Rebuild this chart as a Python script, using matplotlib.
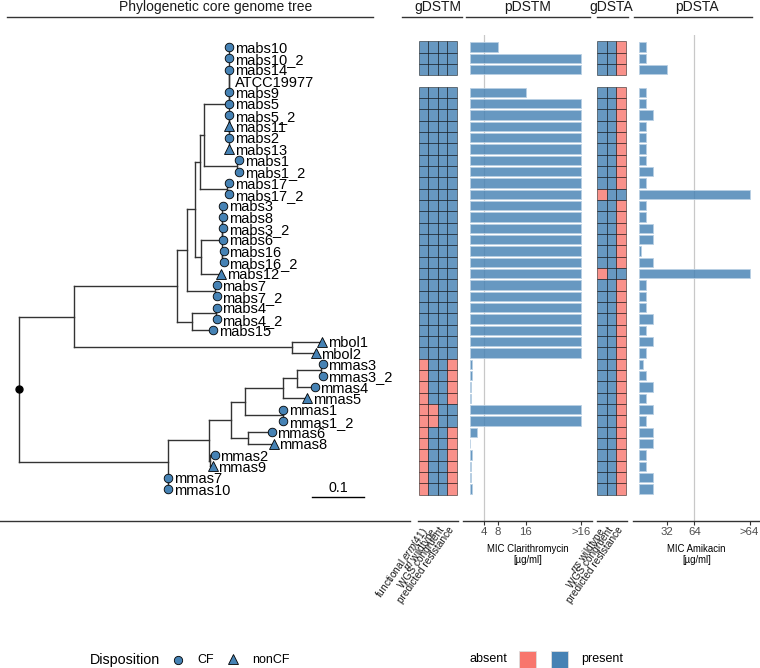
import matplotlib
matplotlib.use("Agg")
import matplotlib.pyplot as plt
import matplotlib.transforms as mtransforms
from matplotlib.patches import Rectangle
from matplotlib.collections import LineCollection
import numpy as np

plt.rcParams['font.family'] = ['Liberation Sans', 'DejaVu Sans']
plt.rcParams['mathtext.fontset'] = 'custom'
plt.rcParams['mathtext.rm'] = 'Liberation Sans'
plt.rcParams['mathtext.it'] = 'Liberation Sans:italic'

# ---------------- data ----------------
NEWICK = """
(((((((((mabs10:0.0006,mabs10_2:0.0006,mabs14:0.0006,ATCC19977:0.0006,mabs9:0.0006,mabs5:0.0006):0.0,
(mabs5_2:0.0006,mabs11:0.0006,mabs2:0.0006,mabs13:0.0006):0.0):0.0484,
(mabs1:0.0035,mabs1_2:0.0035):0.0648):0.0077,
(mabs17:0.0045,mabs17_2:0.0045):0.0522):0.0091,
(((mabs3:0.0015,mabs8:0.0015,mabs3_2:0.0015,mabs6:0.0015):0.0,(mabs16:0.003,mabs16_2:0.003):0.0):0.0416,
mabs12:0.0393):0.011):0.0155,
(mabs7:0.0023,mabs7_2:0.0023):0.0545):0.0193,
((mabs4:0.0014,mabs4_2:0.0014):0.0464,mabs15:0.0412):0.0284):0.1998,
(mbol1:0.0592,mbol2:0.047):0.4211):0.1064,
(((((((mmas3:0.0033,mmas3_2:0.0033):0.047,mmas4:0.0354):0.0259,mmas5:0.0464):0.0741,
(mmas1:0.0015,mmas1_2:0.0015):0.0725):0.0271,
(mmas6:0.0453,mmas8:0.0497):0.0335):0.042,
(mmas2:0.0087,mmas9:0.0043):0.0023):0.0805,
(mmas7:0.001,mmas10:0.001):0.0001):0.2876);
"""

nonCF = ['mabs11', 'mabs13', 'mabs12', 'mbol1', 'mbol2', 'mmas5', 'mmas8', 'mmas9']
no_disposition = ['ATCC19977']

taxa = ['mabs10', 'mabs10_2', 'mabs14', 'ATCC19977', 'mabs9', 'mabs5', 'mabs5_2',
        'mabs11', 'mabs2', 'mabs13', 'mabs1', 'mabs1_2', 'mabs17', 'mabs17_2',
        'mabs3', 'mabs8', 'mabs3_2', 'mabs6', 'mabs16', 'mabs16_2', 'mabs12',
        'mabs7', 'mabs7_2', 'mabs4', 'mabs4_2', 'mabs15', 'mbol1', 'mbol2',
        'mmas3', 'mmas3_2', 'mmas4', 'mmas5', 'mmas1', 'mmas1_2', 'mmas6', 'mmas8',
        'mmas2', 'mmas9', 'mmas7', 'mmas10']

# gDSTM (1 = present, 0 = absent, None = no data)
gdstm_labels = [r'functional $\mathit{erm}$(41)', r'$\mathit{rrl}$ wildtype',
                'WGS congruent', 'predicted resistance']
erm41 =      [1, 1, 1, None] + [1] * 24 + [0] * 12
rrl_wt =     [1, 1, 1, None] + [1] * 24 + [1, 1, 1, 1, 0, 0, 1, 1, 1, 1, 1, 1]
wgs_cong_m = [1, 1, 1, None] + [1] * 24 + [1] * 12
pred_res_m = [1, 1, 1, None] + [1] * 24 + [0, 0, 0, 0, 1, 1, 0, 0, 0, 0, 0, 0]

# gDSTA
gdsta_labels = [r'$\mathit{rrs}$ wildtype', 'WGS congruent', 'predicted resistance']
rrs_wt =     [1, 1, 1, None] + [1] * 9 + [0] + [1] * 6 + [0] + [1] * 19
wgs_cong_a = [1, 1, 1, None] + [1] * 36
pred_res_a = [0, 0, 0, None] + [0] * 9 + [1] + [0] * 6 + [1] + [0] * 19

# pDSTM: MIC clarithromycin (32 stands for ">16")
mic_clari = [8, 32, 32, None, 16] + [32] * 23 + \
            [0.5, 0.5, 0.25, 0.25, 32, 32, 2, 0.06, 0.5, 0.25, 0.25, 0.5]
clari_ticks = [4, 8, 16, 32]
clari_ticklabels = ['4', '8', '16', '>16']

# pDSTA: MIC amikacin (128 stands for ">64")
mic_amika = [8, 8, 32, None, 8, 8, 16, 8, 8, 8, 8, 16, 8, 128, 8, 8, 16, 16, 2, 16,
             128, 8, 8, 8, 16, 8, 16, 8, 4, 8, 16, 8, 16, 8, 16, 16, 8, 8, 16, 16]
amika_ticks = [32, 64, 128]
amika_ticklabels = ['32', '64', '>64']

# ---------------- colours ----------------
BLUE = '#4682B4'
PINK = '#F8766D'
BLUE_A = (70 / 255, 130 / 255, 180 / 255, 0.82)
PINK_A = (248 / 255, 118 / 255, 109 / 255, 0.8)
BAR_EDGE = '#B8CFE3'
LINE = '#333333'

# ---------------- tree parsing ----------------
def parse_newick(s):
    s = ''.join(s.split()).rstrip(';')
    pos = 0

    def node():
        nonlocal pos
        nd = {'children': [], 'name': '', 'bl': 0.0}
        if s[pos] == '(':
            pos += 1
            while True:
                nd['children'].append(node())
                if s[pos] == ',':
                    pos += 1
                    continue
                pos += 1
                break
        st = pos
        while pos < len(s) and s[pos] not in ':,)':
            pos += 1
        nd['name'] = s[st:pos]
        if pos < len(s) and s[pos] == ':':
            pos += 1
            st = pos
            while pos < len(s) and s[pos] not in ',)':
                pos += 1
            nd['bl'] = float(s[st:pos])
        return nd
    return node()


root = parse_newick(NEWICK)
tips = []


def layout(nd, x0):
    nd['x'] = x0 + nd['bl']
    if nd['children']:
        for c in nd['children']:
            layout(c, nd['x'])
        nd['y'] = float(np.mean([c['y'] for c in nd['children']]))
    else:
        nd['y'] = float(len(tips))
        tips.append(nd)


layout(root, 0.0)
segs = []


def collect(nd):
    if nd['children']:
        ys = [c['y'] for c in nd['children']]
        segs.append([(nd['x'], min(ys)), (nd['x'], max(ys))])
        for c in nd['children']:
            segs.append([(nd['x'], c['y']), (c['x'], c['y'])])
            collect(c)


collect(root)

# ---------------- figure ----------------
W, H = 760, 668
fig = plt.figure(figsize=(W / 100, H / 100), dpi=100)

PANEL_TOP, PANEL_BOT = 35, 520.7
ROW0, ROWSTEP = 47.0, 11.33
ylim = ((PANEL_BOT - ROW0) / ROWSTEP, (PANEL_TOP - ROW0) / ROWSTEP)


def add_px_axes(x0, x1, y0=PANEL_TOP, y1=PANEL_BOT):
    return fig.add_axes([x0 / W, 1 - y1 / H, (x1 - x0) / W, (y1 - y0) / H])


def style_bottom(ax):
    for sp in ['top', 'left', 'right']:
        ax.spines[sp].set_visible(False)
    ax.spines['bottom'].set_color(LINE)
    ax.spines['bottom'].set_linewidth(1.0)
    ax.set_yticks([])
    ax.set_ylim(*ylim)
    ax.patch.set_alpha(0)


# overlay for titles / legends
ov = fig.add_axes([0, 0, 1, 1])
ov.set_xlim(0, W)
ov.set_ylim(H, 0)
ov.axis('off')

# ---- tree panel ----
TREE_X0, TREE_X1 = 0, 410
ROOT_PX, PX_PER_UNIT = 19.0, 517.0
axT = add_px_axes(TREE_X0, TREE_X1)
style_bottom(axT)
axT.set_xlim((TREE_X0 - ROOT_PX) / PX_PER_UNIT, (TREE_X1 - ROOT_PX) / PX_PER_UNIT)
axT.set_xticks([])
axT.add_collection(LineCollection(segs, colors=LINE, linewidths=1.0, capstyle='projecting'))
axT.plot([root['x']], [root['y']], 'o', color='black', ms=5, zorder=5)

lab_tr = mtransforms.offset_copy(axT.transData, fig=fig, x=5.5, y=-5.8, units='dots')
for t in tips:
    name = t['name']
    if name not in no_disposition:
        mk = '^' if name in nonCF else 'o'
        axT.plot([t['x']], [t['y']], marker=mk, ms=6.2 if mk == 'o' else 7.0,
                 mfc=BLUE, mec='black', mew=0.6, ls='none', zorder=6)
    axT.text(t['x'], t['y'], name, transform=lab_tr, ha='left', va='baseline',
             fontsize=10.5, color='black', zorder=7)

# scale bar (0.1 substitutions/site)
sb_x0 = (312.3 - ROOT_PX) / PX_PER_UNIT
axT.plot([sb_x0, sb_x0 + 0.1], [39.74, 39.74], color='black', lw=1.0)
axT.text(sb_x0 + 0.05, 38.95, '0.1', ha='center', va='center', fontsize=10.3)

# ---- gDSTM heatmap ----
def heatmap(ax, cols):
    for j, col in enumerate(cols):
        for i, v in enumerate(col):
            if v is None:
                continue
            ax.add_patch(Rectangle((j - 0.5, i - 0.5), 1, 1,
                                   facecolor=BLUE_A if v == 1 else PINK_A,
                                   edgecolor=(0, 0, 0, 0.55), lw=0.6))


def rot_labels(ax, labels, dx=-4, dy=-4):
    tr = mtransforms.blended_transform_factory(ax.transData, ax.transAxes)
    tr = tr + mtransforms.ScaledTranslation(dx / 100, dy / 100, fig.dpi_scale_trans)
    for j, lab in enumerate(labels):
        ax.text(j, 0, lab, transform=tr, rotation=55, rotation_mode='anchor',
                ha='right', va='top', fontsize=7.3, color='#1a1a1a')


GM_X0, GM_X1, GM_CELL0, GM_CW = 417.7, 457.7, 419.0, 9.42
axM = add_px_axes(GM_X0, GM_X1)
style_bottom(axM)
axM.set_xlim(-0.5 + (GM_X0 - GM_CELL0) / GM_CW, -0.5 + (GM_X1 - GM_CELL0) / GM_CW)
axM.set_xticks([])
heatmap(axM, [erm41, rrl_wt, wgs_cong_m, pred_res_m])
rot_labels(axM, gdstm_labels)

# ---- pDSTM bars ----
PM_X0, PM_X1, PM_ZERO, PM_SCALE = 463.0, 592.0, 470.1, 3.475
axPM = add_px_axes(PM_X0, PM_X1)
style_bottom(axPM)
axPM.set_xlim((PM_X0 - PM_ZERO) / PM_SCALE, (PM_X1 - PM_ZERO) / PM_SCALE)
axPM.axvline(4, color='#C8C8C8', lw=0.9, zorder=0)
rows = [i for i, v in enumerate(mic_clari) if v is not None]
axPM.barh(rows, [mic_clari[i] for i in rows], height=0.82, color=BLUE_A,
          edgecolor=BAR_EDGE, lw=0.6)
axPM.set_xticks(clari_ticks)
axPM.set_xticklabels(clari_ticklabels, fontsize=8.2, color='#4D4D4D')
axPM.tick_params(axis='x', length=3, width=0.8, color=LINE, pad=1.5)
axPM.set_xlabel('MIC Clarithromycin\n[µg/ml]', fontsize=6.9, labelpad=5, linespacing=1.15)

# ---- gDSTA heatmap ----
GA_X0, GA_X1, GA_CELL0, GA_CW = 596.7, 626.7, 597.3, 9.47
axA = add_px_axes(GA_X0, GA_X1)
style_bottom(axA)
axA.set_xlim(-0.5 + (GA_X0 - GA_CELL0) / GA_CW, -0.5 + (GA_X1 - GA_CELL0) / GA_CW)
axA.set_xticks([])
heatmap(axA, [rrs_wt, wgs_cong_a, pred_res_a])
rot_labels(axA, gdsta_labels)

# ---- pDSTA bars ----
PA_X0, PA_X1, PA_ZERO, PA_SCALE = 632.7, 760.0, 639.1, 0.8625
axPA = add_px_axes(PA_X0, PA_X1)
style_bottom(axPA)
axPA.set_xlim((PA_X0 - PA_ZERO) / PA_SCALE, (PA_X1 - PA_ZERO) / PA_SCALE)
axPA.axvline(64, color='#C8C8C8', lw=0.9, zorder=0)
rows = [i for i, v in enumerate(mic_amika) if v is not None]
axPA.barh(rows, [mic_amika[i] for i in rows], height=0.82, color=BLUE_A,
          edgecolor=BAR_EDGE, lw=0.6)
axPA.set_xticks(amika_ticks)
axPA.set_xticklabels(amika_ticklabels, fontsize=8.2, color='#4D4D4D')
axPA.tick_params(axis='x', length=3, width=0.8, color=LINE, pad=1.5)
axPA.set_xlabel('MIC Amikacin\n[µg/ml]', fontsize=6.9, labelpad=5, linespacing=1.15)

# ---- panel titles with rules ----
titles = [('Phylogenetic core genome tree', 216, 7, 373),
          ('gDSTM', 437.7, 402, 462),
          ('pDSTM', 527.5, 466, 590),
          ('gDSTA', 611.7, 597, 628),
          ('pDSTA', 696.5, 634, 752)]
for txt, cx, lx0, lx1 in titles:
    ov.text(cx, 11, txt, ha='center', va='baseline', fontsize=10, color='#1a1a1a')
    ov.plot([lx0, lx1], [17.3, 17.3], color=LINE, lw=1.0)

# ---- legends ----
ov.text(90, 660, 'Disposition', ha='left', va='center', fontsize=10.3)
ov.plot([178], [660], 'o', ms=6, mfc=BLUE, mec='black', mew=0.6)
ov.text(197.5, 660, 'CF', ha='left', va='center', fontsize=9)
ov.plot([232.7], [659], '^', ms=7, mfc=BLUE, mec='black', mew=0.6)
ov.text(252, 660, 'nonCF', ha='left', va='center', fontsize=9)

ov.text(469, 659, 'absent', ha='left', va='center', fontsize=9)
ov.add_patch(Rectangle((518.5, 650.5), 17, 17, facecolor=PINK, edgecolor='#DDDDDD', lw=0.6))
ov.add_patch(Rectangle((551, 650.5), 17, 17, facecolor=BLUE, edgecolor='#DDDDDD', lw=0.6))
ov.text(581, 659, 'present', ha='left', va='center', fontsize=9)

fig.savefig('out.png', dpi=100)
